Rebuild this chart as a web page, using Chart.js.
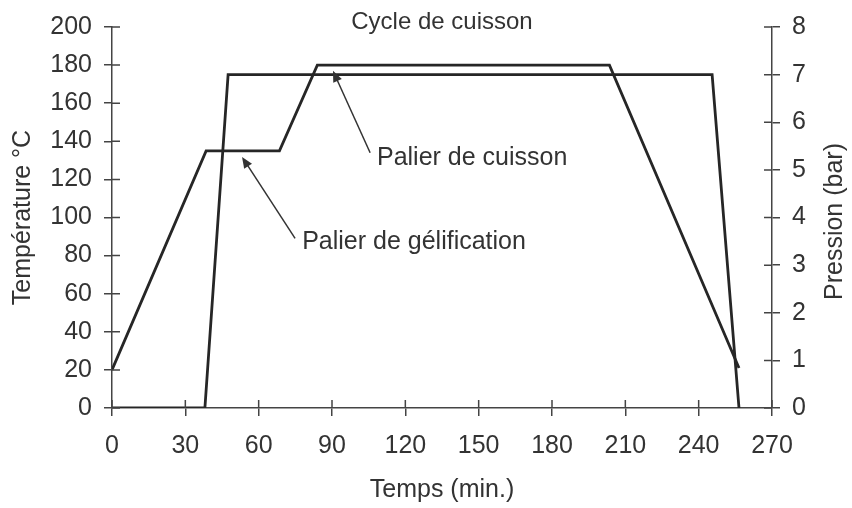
<!DOCTYPE html>
<html>
<head>
<meta charset="utf-8">
<script src="https://cdn.jsdelivr.net/npm/chart.js@4/dist/chart.umd.min.js"></script>
<style>
  html, body { margin: 0; padding: 0; background: #fff; }
  #wrap { width: 852px; height: 508px; }
</style>
</head>
<body>
<div id="wrap"><canvas id="chart" width="852" height="508"></canvas></div>
<script>
// values
const tempTimes = [0, 38.5, 68.5, 84, 203.5, 256.5];
const tempValues = [20, 135, 135, 180, 180, 21];
const pressTimes = [0, 38, 47.5, 245.5, 256.5];
const pressValues = [0, 0, 7, 7, 0];

const timeTicks = [0, 30, 60, 90, 120, 150, 180, 210, 240, 270];
const tempTicks = [0, 20, 40, 60, 80, 100, 120, 140, 160, 180, 200];
const pressTicks = [0, 1, 2, 3, 4, 5, 6, 7, 8];

// callouts, in data units (time, temperature)
const callouts = [
  { text: "Palier de cuisson", tip: [90.4, 177], tail: [105.6, 134], label: [108.4, 131] },
  { text: "Palier de gélification", tip: [53.2, 131.8], tail: [74.9, 89], label: [77.8, 87] },
];

const INK = "#333";
const AXIS = "#444";
const FONT = "'Liberation Sans', Arial, sans-serif";

const toPoints = (xs, ys) => xs.map((x, i) => ({ x: x, y: ys[i] }));

// small ticks on the inner side of each axis, so they cross the axis line
const innerTicks = {
  id: "innerTicks",
  afterDraw(chart) {
    const ctx = chart.ctx;
    const { x, y, y1 } = chart.scales;
    ctx.save();
    ctx.strokeStyle = AXIS;
    ctx.lineWidth = 1.5;
    ctx.beginPath();
    x.ticks.forEach(t => {
      const px = x.getPixelForValue(t.value);
      ctx.moveTo(px, x.top);
      ctx.lineTo(px, x.top - 8);
    });
    y.ticks.forEach(t => {
      const py = y.getPixelForValue(t.value);
      ctx.moveTo(y.right, py);
      ctx.lineTo(y.right + 8, py);
    });
    y1.ticks.forEach(t => {
      const py = y1.getPixelForValue(t.value);
      ctx.moveTo(y1.left, py);
      ctx.lineTo(y1.left - 8, py);
    });
    ctx.stroke();

    // right axis title reads bottom-to-top, like the left one
    const cy = (chart.chartArea.top + chart.chartArea.bottom) / 2;
    ctx.translate(y1.right - 17, cy + 4);
    ctx.rotate(-Math.PI / 2);
    ctx.fillStyle = INK;
    ctx.font = "25px " + FONT;
    ctx.textAlign = "center";
    ctx.textBaseline = "middle";
    ctx.fillText("Pression (bar)", 0, 0);
    ctx.restore();
  }
};

const arrows = {
  id: "arrows",
  afterDatasetsDraw(chart) {
    const ctx = chart.ctx;
    const { x, y } = chart.scales;
    ctx.save();
    callouts.forEach(c => {
      const tx = x.getPixelForValue(c.tip[0]), ty = y.getPixelForValue(c.tip[1]);
      const sx = x.getPixelForValue(c.tail[0]), sy = y.getPixelForValue(c.tail[1]);
      const ang = Math.atan2(ty - sy, tx - sx);
      ctx.strokeStyle = INK;
      ctx.fillStyle = INK;
      ctx.lineWidth = 1.5;
      ctx.beginPath();
      ctx.moveTo(sx, sy);
      ctx.lineTo(tx - 6 * Math.cos(ang), ty - 6 * Math.sin(ang));
      ctx.stroke();
      // arrow head
      const len = 12, wid = 0.4;
      ctx.beginPath();
      ctx.moveTo(tx, ty);
      ctx.lineTo(tx - len * Math.cos(ang - wid), ty - len * Math.sin(ang - wid));
      ctx.lineTo(tx - len * Math.cos(ang + wid), ty - len * Math.sin(ang + wid));
      ctx.closePath();
      ctx.fill();

      ctx.font = "25px " + FONT;
      ctx.textAlign = "left";
      ctx.textBaseline = "middle";
      ctx.fillText(c.text, x.getPixelForValue(c.label[0]), y.getPixelForValue(c.label[1]));
    });
    ctx.restore();
  }
};

const axisStyle = {
  grid: { display: true, drawOnChartArea: false, drawTicks: true, tickLength: 8, color: AXIS, lineWidth: 1.5 },
  border: { display: true, color: AXIS, width: 1.5 },
};

new Chart(document.getElementById("chart"), {
  type: "line",
  data: {
    datasets: [
      {
        label: "Température",
        data: toPoints(tempTimes, tempValues),
        yAxisID: "y",
        borderColor: "#262626",
        borderWidth: 2.8,
        pointRadius: 0,
        fill: false,
        tension: 0,
      },
      {
        label: "Pression",
        data: toPoints(pressTimes, pressValues),
        yAxisID: "y1",
        borderColor: "#262626",
        borderWidth: 2.8,
        pointRadius: 0,
        fill: false,
        tension: 0,
      },
    ],
  },
  options: {
    responsive: false,
    animation: false,
    devicePixelRatio: 1,
    layout: { padding: 0 },
    plugins: {
      legend: { display: false },
      tooltip: { enabled: false },
      title: {
        display: true,
        text: "Cycle de cuisson",
        fullSize: false,
        color: INK,
        font: { family: FONT, size: 24, weight: "normal" },
        padding: { top: 5, bottom: -9.8 },
      },
    },
    scales: {
      x: {
        type: "linear",
        min: 0,
        max: 270,
        ...axisStyle,
        afterBuildTicks: s => { s.ticks = timeTicks.map(v => ({ value: v })); },
        afterFit: s => { s.height = 100; },
        ticks: { color: INK, padding: 15, font: { family: FONT, size: 25 } },
        title: { display: true, text: "Temps (min.)", color: INK, padding: { top: 0, bottom: 3 }, font: { family: FONT, size: 25 } },
      },
      y: {
        type: "linear",
        position: "left",
        min: 0,
        max: 200,
        ...axisStyle,
        afterBuildTicks: s => { s.ticks = tempTicks.map(v => ({ value: v })); },
        afterFit: s => { s.width = 112; },
        ticks: { color: INK, padding: 12, font: { family: FONT, size: 25 } },
        title: { display: true, text: "Température °C", color: INK, padding: { top: 8, bottom: 0 }, font: { family: FONT, size: 25 } },
      },
      y1: {
        type: "linear",
        position: "right",
        min: 0,
        max: 8,
        ...axisStyle,
        afterBuildTicks: s => { s.ticks = pressTicks.map(v => ({ value: v })); },
        afterFit: s => { s.width = 80; },
        ticks: { color: INK, padding: 12, font: { family: FONT, size: 25 } },
      },
    },
  },
  plugins: [innerTicks, arrows],
});
</script>
</body>
</html>
